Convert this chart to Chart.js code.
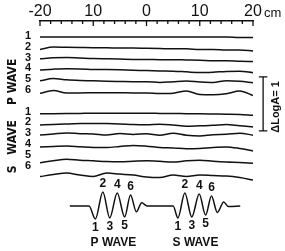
<!DOCTYPE html>
<html>
<head>
<meta charset="utf-8">
<script src="https://cdn.jsdelivr.net/npm/chart.js@4/dist/chart.umd.min.js"></script>
<style>
    html, body { margin: 0; padding: 0; background: #fff; }
</style>
</head>
<body>
<canvas id="chart" width="285" height="251"></canvas>
<script>
// --- Data (log amplitude) ---
const distanceCm = [-20, -17.5, -15, -12.5, -10, -7.5, -5, -2.5, 0, 2.5, 5, 7.5, 10, 12.5, 15, 17.5, 20];
const tickLabels = ['-20', '10', '0', '10', '20'];
const traceNames = ['1', '2', '3', '4', '5', '6'];

const pWave1 = [0, 0, 0, 0, 0, 0, 0, 0, 0, 0, 0, 0, 0, 0, 0, -0.01, -0.01];
const pWave2 = [-0.03, 0.015, 0.01, 0.005, 0, 0, -0.005, -0.005, -0.01, -0.015, -0.02, -0.02, -0.03, -0.03, -0.04, -0.04, -0.06];
const pWave3 = [-0.005, 0.015, 0.02, 0.01, 0, -0.005, -0.01, -0.015, -0.015, -0.02, -0.02, -0.025, -0.03, -0.04, -0.04, -0.05, -0.055];
const pWave4 = [-0.013, 0.004, 0.013, 0.009, 0, -0.004, -0.009, -0.015, -0.022, -0.028, -0.033, -0.046, -0.059, -0.052, -0.037, -0.033, -0.061];
const pWave5 = [-0.013, 0.031, 0.006, -0.006, -0.011, -0.019, -0.024, -0.028, -0.028, -0.043, -0.028, -0.015, -0.033, -0.043, -0.009, -0.019, -0.046];
const pWave6 = [-0.043, 0.009, -0.037, -0.037, -0.033, -0.031, -0.033, -0.037, -0.037, -0.046, -0.04, 0, -0.065, -0.07, -0.05, 0, -0.083];

const sWave1 = [-0.024, -0.02, -0.017, -0.015, -0.013, -0.013, -0.013, -0.013, -0.013, -0.015, -0.017, -0.02, -0.022, -0.026, -0.03, -0.035, -0.05];
const sWave2 = [-0.03, -0.019, -0.011, -0.004, 0, -0.004, -0.011, -0.022, -0.026, -0.015, -0.03, -0.052, -0.044, -0.037, -0.022, -0.046, -0.065];
const sWave3 = [-0.015, 0.004, 0.022, 0.009, 0.004, -0.015, 0.011, -0.006, 0.009, -0.019, 0.019, -0.019, -0.033, -0.009, 0, 0.019, -0.019];
const sWave4 = [-0.037, -0.028, -0.019, -0.033, -0.046, -0.046, -0.028, -0.009, -0.022, -0.046, -0.056, -0.07, -0.065, -0.046, -0.037, -0.065, -0.11];
const sWave5 = [-0.13, -0.093, -0.065, -0.083, -0.093, -0.107, -0.111, -0.102, -0.093, -0.102, -0.117, -0.093, -0.083, -0.102, -0.117, -0.126, -0.139];
const sWave6 = [-0.185, -0.148, -0.12, -0.157, -0.185, -0.12, -0.139, -0.157, -0.194, -0.204, -0.157, -0.185, -0.157, -0.167, -0.176, -0.204, -0.25];

// schematic P and S wave forms under the plot
const sketchX = [-14.4, -10.8, -9.6, -8.2, -6.9, -5.5, -4.1, -3.0, -1.9, -0.9, 0.1, 4.4, 5.0, 5.9, 7.2, 8.5, 9.9, 11.1, 12.2, 13.3, 14.5, 15.4, 17.6];
const sketchAmp = [0, 0, -1.0, 1.08, -0.92, 1.0, -0.85, 0.85, -0.45, 0.25, 0, 0, 0, -0.92, 1.0, -0.85, 0.92, -0.7, 0.77, -0.5, 0.3, -0.05, 0];
const pPhaseIdx = [2, 3, 4, 5, 6, 7];
const sPhaseIdx = [13, 14, 15, 16, 17, 18];

const traceStep = 0.2;      // log A spacing between traces
const sGroupOffset = -1.4;  // start of the S wave group
const scaleBarTop = -0.74;  // ΔLogA = 1 bar

const INK = '#111';
const FONT = '"Liberation Sans", Arial, sans-serif';
const NARROW = '"Liberation Sans Narrow", "DejaVu Sans Condensed", "Liberation Sans", sans-serif';

function traceDataset(vals, offset) {
    return {
        data: distanceCm.map((d, k) => ({ x: d, y: offset + vals[k] })),
        borderColor: INK, borderWidth: 1.5, pointRadius: 0,
        cubicInterpolationMode: 'monotone', yAxisID: 'y'
    };
}

const pWaves = [pWave1, pWave2, pWave3, pWave4, pWave5, pWave6];
const sWaves = [sWave1, sWave2, sWave3, sWave4, sWave5, sWave6];
const datasets = [];
pWaves.forEach((v, i) => datasets.push(traceDataset(v, -i * traceStep)));
sWaves.forEach((v, i) => datasets.push(traceDataset(v, sGroupOffset - i * traceStep)));

datasets.push({
    data: [
        { x: 21.1, y: scaleBarTop }, { x: 22.7, y: scaleBarTop }, { x: 21.9, y: scaleBarTop },
        { x: 21.9, y: scaleBarTop - 1 }, { x: 21.1, y: scaleBarTop - 1 }, { x: 22.7, y: scaleBarTop - 1 }
    ],
    borderColor: INK, borderWidth: 1.3, pointRadius: 0, tension: 0, clip: false, yAxisID: 'y'
});

const sketchIndex = datasets.length;
datasets.push({
    data: sketchX.map((x, k) => ({ x, y: sketchAmp[k] })),
    borderColor: INK, borderWidth: 1.5, pointRadius: 0,
    cubicInterpolationMode: 'monotone', yAxisID: 'ys'
});

// --- Texts and inward tick marks ---
const annotate = {
    id: 'annotate',
    afterDraw(chart) {
        const { ctx, chartArea, scales: { x, y, ys } } = chart;
        ctx.save();
        ctx.fillStyle = INK;
        ctx.strokeStyle = INK;

        // ticks point down from the top axis
        ctx.lineWidth = 1.3;
        x.ticks.forEach(t => {
            const px = x.getPixelForValue(t.value);
            const len = t.value % 10 === 0 ? 5 : 3;
            ctx.beginPath();
            ctx.moveTo(px, chartArea.top);
            ctx.lineTo(px, chartArea.top + len);
            ctx.stroke();
        });

        ctx.font = '13px ' + FONT;
        ctx.textAlign = 'left';
        ctx.textBaseline = 'alphabetic';
        ctx.fillText('cm', x.getPixelForValue(20) + 11, 17);

        // trace numbers
        ctx.font = 'bold 11px ' + FONT;
        ctx.textAlign = 'center';
        ctx.textBaseline = 'middle';
        traceNames.forEach((n, i) => {
            ctx.fillText(n, 28, y.getPixelForValue(-i * traceStep) - 1);
            ctx.fillText(n, 28, y.getPixelForValue(sGroupOffset - i * traceStep) - 1);
        });

        // vertical group labels
        const vText = (txt, px, py, font) => {
            ctx.save();
            ctx.translate(px, py);
            ctx.rotate(-Math.PI / 2);
            ctx.font = font;
            ctx.textAlign = 'center';
            ctx.textBaseline = 'middle';
            ctx.fillText(txt, 0, 0);
            ctx.restore();
        };
        vText('P WAVE', 13, y.getPixelForValue(-0.83), 'bold 12px ' + NARROW);
        vText('WAVE', 13, y.getPixelForValue(-1.86), 'bold 12px ' + NARROW);
        vText('S', 13, y.getPixelForValue(-2.45), 'bold 12px ' + NARROW);

        const barMid = (y.getPixelForValue(scaleBarTop) + y.getPixelForValue(scaleBarTop - 1)) / 2;
        vText('ΔLogA= 1', 276, barMid + 3, 'bold 11px ' + FONT);

        // phase numbers on the schematic wave forms
        const pts = chart.getDatasetMeta(sketchIndex).data;
        ctx.font = 'bold 12px ' + FONT;
        ctx.textAlign = 'center';
        ctx.textBaseline = 'middle';
        [pPhaseIdx, sPhaseIdx].forEach(idx => {
            idx.forEach((k, j) => {
                const p = pts[k];
                const up = (j + 1) % 2 === 0;
                ctx.fillText(String(j + 1), p.x, up ? p.y - 8 : p.y + 9);
            });
        });
        const base = ys.getPixelForValue(0);
        ctx.fillText('P WAVE', (pts[pPhaseIdx[2]].x + pts[pPhaseIdx[3]].x) / 2, base + 37);
        ctx.fillText('S WAVE', (pts[sPhaseIdx[2]].x + pts[sPhaseIdx[3]].x) / 2, base + 37);

        ctx.restore();
    }
};

new Chart(document.getElementById('chart'), {
    type: 'line',
    data: { datasets },
    options: {
        responsive: false,
        animation: false,
        layout: { padding: { left: 40, right: 32, top: 0, bottom: 5 } },
        plugins: { legend: { display: false }, tooltip: { enabled: false } },
        scales: {
            x: {
                type: 'linear', position: 'top', min: -20, max: 20,
                afterFit: s => { s.height = 21; },
                grid: { display: false, drawTicks: false },
                border: { display: true, color: INK, width: 1.5 },
                ticks: {
                    stepSize: 2, autoSkip: false, maxRotation: 0, padding: 0,
                    color: INK, font: { family: FONT, size: 16 },
                    callback: v => v % 10 === 0 ? tickLabels[(v + 20) / 10] : ''
                }
            },
            y: { display: false, min: -3.871, max: 0.296 },
            ys: { display: false, min: -3.08, max: 14.23 }
        }
    },
    plugins: [annotate]
});
</script>
</body>
</html>
